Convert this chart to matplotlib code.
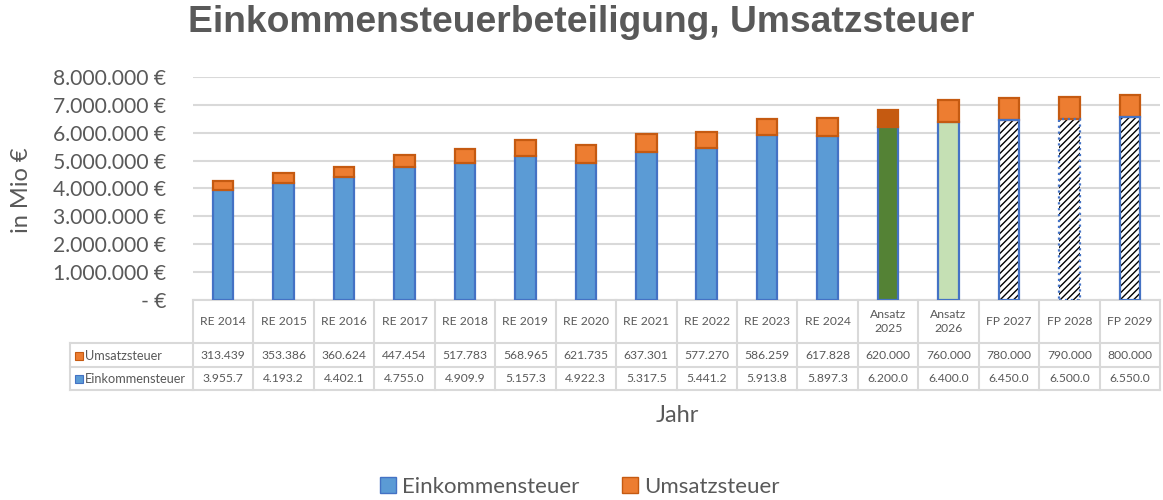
import matplotlib
matplotlib.use("Agg")
import matplotlib.pyplot as plt
from matplotlib.patches import Rectangle
from matplotlib.lines import Line2D
import matplotlib.transforms as mtransforms

categories = ["RE 2014", "RE 2015", "RE 2016", "RE 2017", "RE 2018", "RE 2019",
              "RE 2020", "RE 2021", "RE 2022", "RE 2023", "RE 2024",
              "Ansatz\n2025", "Ansatz\n2026", "FP 2027", "FP 2028", "FP 2029"]
einkommen_tsd = [3955.7, 4193.2, 4402.1, 4755.0, 4909.9, 5157.3, 4922.3, 5317.5,
                 5441.2, 5913.8, 5897.3, 6200.0, 6400.0, 6450.0, 6500.0, 6550.0]
umsatz = [313439, 353386, 360624, 447454, 517783, 568965, 621735, 637301,
          577270, 586259, 617828, 620000, 760000, 780000, 790000, 800000]
yticks = [0, 1000000, 2000000, 3000000, 4000000, 5000000, 6000000, 7000000, 8000000]
ytick_labels = ["- €", "1.000.000 €", "2.000.000 €", "3.000.000 €", "4.000.000 €",
                "5.000.000 €", "6.000.000 €", "7.000.000 €", "8.000.000 €"]

TXT = "#595959"
GRID = "#D9D9D9"
BLUE = "#5B9BD5"
BLUE_E = "#4472C4"
ORANGE = "#ED7D31"
ORANGE_E = "#C55A11"
FONT = "Lato"

W, H = 1163, 500
fig = plt.figure(figsize=(W / 100, H / 100), dpi=100)
ax_left, ax_right, ax_bot, ax_top = 193, 1160, 300, 77
ax = fig.add_axes([ax_left / W, 1 - ax_bot / H, (ax_right - ax_left) / W, (ax_bot - ax_top) / H])

n = len(categories)
x = list(range(n))
einkommen = [v * 1000 for v in einkommen_tsd]
bw = 0.34

for i in x:
    e = einkommen[i]
    u = umsatz[i]
    if i < 11:
        ax.bar(i, e, bw, color=BLUE, edgecolor=BLUE_E, linewidth=1.6, zorder=3)
    elif i == 11:
        ax.bar(i, e, bw, color="#548235", edgecolor=BLUE_E, linewidth=1.6, zorder=3)
    elif i == 12:
        ax.bar(i, e, bw, color="#C5E0B4", edgecolor=BLUE_E, linewidth=1.6, zorder=3)
    else:
        ax.bar(i, e, bw, color="white", edgecolor="black", hatch="/////", linewidth=0, zorder=3)
        ls = ":" if i == 14 else "-"
        ax.bar(i, e, bw, color="none", edgecolor=BLUE_E, linewidth=1.6, linestyle=ls, zorder=4)
    uc = ORANGE_E if i == 11 else ORANGE
    ax.bar(i, u, bw, bottom=e, color=uc, edgecolor=ORANGE_E, linewidth=1.6, zorder=3)

ax.set_xlim(-0.5, n - 0.5)
ax.set_ylim(0, 8000000)
ax.set_yticks(yticks)
ax.set_yticklabels(ytick_labels, fontsize=15.2, color=TXT, family=FONT)
ax.tick_params(axis="y", length=0, pad=19)
ax.set_xticks([])
ax.grid(axis="y", color=GRID, linewidth=1.5, zorder=0)
for s in ["top", "right", "left"]:
    ax.spines[s].set_visible(False)
ax.spines["bottom"].set_color(GRID)
ax.spines["bottom"].set_linewidth(1.5)

# data table
trans = mtransforms.blended_transform_factory(ax.transData, ax.transAxes)
ph = ax_bot - ax_top
def yf(ypix):
    return (ax_bot - ypix) / ph

colw = (ax_right - ax_left) / n
xl = (70 - ax_left) / colw - 0.5
rows_y = [300, 343, 367, 390]
for i in range(n + 1):
    ax.add_line(Line2D([i - 0.5, i - 0.5], [yf(300), yf(390)], transform=trans,
                       color=GRID, lw=1.5, clip_on=False))
for ry in rows_y[1:]:
    ax.add_line(Line2D([xl, n - 0.5], [yf(ry), yf(ry)], transform=trans,
                       color=GRID, lw=1.5, clip_on=False))
ax.add_line(Line2D([xl, xl], [yf(343), yf(390)], transform=trans, color=GRID, lw=1.5, clip_on=False))

umsatz_lbl = [f"{v:,}".replace(",", ".") for v in umsatz]
eink_lbl = [f"{v:,.1f}".replace(",", ".") for v in einkommen_tsd]
for i in x:
    ax.text(i, yf(321.5), categories[i], transform=trans, ha="center", va="center",
            fontsize=8.7, color=TXT, family=FONT, linespacing=1.4)
    ax.text(i, yf(355.5), umsatz_lbl[i], transform=trans, ha="center", va="center",
            fontsize=8.7, color=TXT, family=FONT)
    ax.text(i, yf(379), eink_lbl[i], transform=trans, ha="center", va="center",
            fontsize=8.7, color=TXT, family=FONT)

# row labels
for ry, lbl, fc, ec in [(355.5, "Umsatzsteuer", ORANGE, ORANGE_E), (379, "Einkommensteuer", BLUE, BLUE_E)]:
    fig.patches.append(Rectangle((75 / W, 1 - (ry + 4) / H), 8 / W, 8 / H, transform=fig.transFigure,
                                 facecolor=fc, edgecolor=ec, lw=0.8))
    fig.text(85 / W, 1 - ry / H, lbl, ha="left", va="center", fontsize=9.2, color=TXT, family=FONT)

fig.text(581 / W, 1 - 23 / H, "Einkommensteuerbeteiligung, Umsatzsteuer", ha="center", va="center",
         fontsize=26.8, fontweight="bold", color=TXT, family="Liberation Sans")
fig.text(22 / W, 1 - 190 / H, "in Mio €", rotation=90, ha="center", va="center",
         fontsize=17, color=TXT, family=FONT)
fig.text(677 / W, 1 - 415 / H, "Jahr", ha="center", va="center", fontsize=17, color=TXT, family=FONT)

handles = [Rectangle((0, 0), 1, 1, facecolor=BLUE, edgecolor=BLUE_E),
           Rectangle((0, 0), 1, 1, facecolor=ORANGE, edgecolor=ORANGE_E)]
leg = fig.legend(handles, ["Einkommensteuer", "Umsatzsteuer"], loc="center",
                 bbox_to_anchor=(580 / W, 1 - 487 / H), ncol=2, frameon=False,
                 prop={"family": FONT, "size": 16}, handlelength=0.7, handleheight=0.7,
                 handletextpad=0.3, columnspacing=1.9)
for t in leg.get_texts():
    t.set_color(TXT)

fig.savefig("out.png", dpi=100)
